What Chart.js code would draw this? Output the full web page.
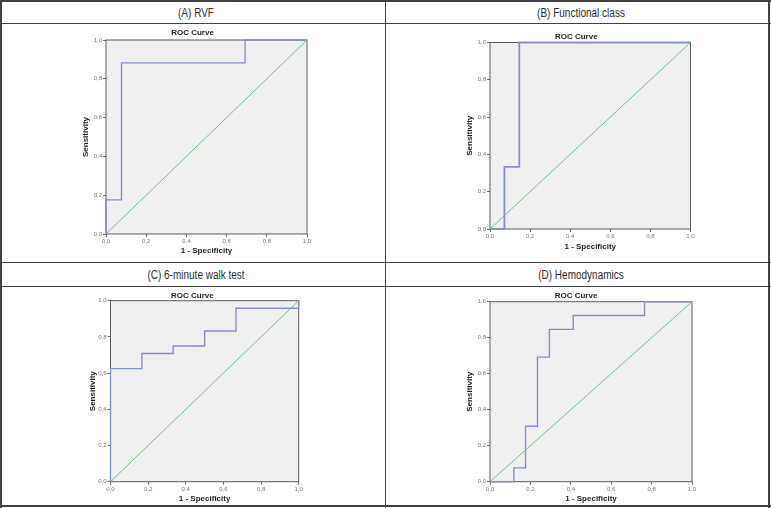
<!DOCTYPE html>
<html><head><meta charset="utf-8">
<script src="https://cdn.jsdelivr.net/npm/chart.js@4.4.1/dist/chart.umd.min.js"></script>
<style>
html,body{margin:0;padding:0;background:#fff;}
#wrap{position:relative;width:771px;height:508px;overflow:hidden;background:#fff;}
.ln{position:absolute;background:#404040;}
.hd{position:absolute;width:260px;text-align:center;font-family:'Liberation Sans',Arial,sans-serif;font-size:12.5px;color:#2e2e2e;transform:scaleX(0.8);transform-origin:center;line-height:16px;white-space:nowrap;}
canvas{position:absolute;}
</style></head><body>
<div id="wrap">
  <div class="ln" style="left:0;top:0;width:771px;height:2px"></div>
  <div class="ln" style="left:0;top:0;width:2px;height:508px"></div>
  <div class="ln" style="left:768px;top:0;width:2px;height:508px"></div>
  <div class="ln" style="left:0;top:505px;width:771px;height:2px"></div>
  <div class="ln" style="left:0;top:22.5px;width:771px;height:1.5px"></div>
  <div class="ln" style="left:0;top:261.5px;width:771px;height:1.5px"></div>
  <div class="ln" style="left:0;top:285.5px;width:771px;height:1.5px"></div>
  <div class="ln" style="left:384.5px;top:0;width:1.5px;height:508px"></div>
  <div class="hd" id="hA" style="left:66px;top:4.5px"></div>
  <div class="hd" id="hB" style="left:450.5px;top:4.5px"></div>
  <div class="hd" id="hC" style="left:66px;top:267px"></div>
  <div class="hd" id="hD" style="left:450.5px;top:267px"></div>
</div>
<script>
// ---- data ----
const panelTitles = ['(A) RVF', '(B) Functional class', '(C) 6-minute walk test', '(D) Hemodynamics'];
const chartTitle = 'ROC Curve';
const xAxisTitle = '1 - Specificity';
const yAxisTitle = 'Sensitivity';
const tickValues = [0, 0.2, 0.4, 0.6, 0.8, 1.0];
const tickLabels = ['0,0', '0,2', '0,4', '0,6', '0,8', '1,0'];
const refLine = [0, 1];

const rvfFpr = [0, 0, 0.077, 0.077, 0.692, 0.692, 1];
const rvfTpr = [0, 0.176, 0.176, 0.882, 0.882, 1, 1];

const fcFpr = [0, 0.072, 0.072, 0.146, 0.146, 1];
const fcTpr = [0, 0, 0.333, 0.333, 1, 1];

const walkFpr = [0, 0, 0.167, 0.167, 0.333, 0.333, 0.5, 0.5, 0.667, 0.667, 1, 1];
const walkTpr = [0, 0.625, 0.625, 0.708, 0.708, 0.75, 0.75, 0.833, 0.833, 0.958, 0.958, 1];

const hemoFpr = [0, 0.118, 0.118, 0.176, 0.176, 0.235, 0.235, 0.294, 0.294, 0.412, 0.412, 0.765, 0.765, 1];
const hemoTpr = [0, 0, 0.077, 0.077, 0.308, 0.308, 0.692, 0.692, 0.846, 0.846, 0.923, 0.923, 1, 1];

// ---- layout ----
['hA','hB','hC','hD'].forEach((id,i)=>{ document.getElementById(id).textContent = panelTitles[i]; });

const panels = [
  {fpr: rvfFpr, tpr: rvfTpr, cx:78, cy:24, L:106, R:307, T:40, B:234, ty:33, xty:250.5, ytx:86, lw:1.4},
  {fpr: fcFpr, tpr: fcTpr, cx:462, cy:24, L:490, R:690.5, T:42.5, B:229, ty:36.7, xty:247, ytx:470, lw:1.8},
  {fpr: walkFpr, tpr: walkTpr, cx:86, cy:288, L:110.5, R:298.7, T:300.7, B:481.7, ty:295.7, xty:498.3, ytx:92.3, lw:1.4},
  {fpr: hemoFpr, tpr: hemoTpr, cx:460, cy:288, L:490, R:692, T:301.7, B:481.7, ty:295.7, xty:498.3, ytx:470, lw:1.4}
];

const framePlugin = {
  id: 'frame',
  beforeDraw(chart) {
    const {ctx, chartArea: a} = chart;
    ctx.save();
    ctx.fillStyle = '#f0f0f0';
    ctx.fillRect(a.left, a.top, a.right - a.left, a.bottom - a.top);
    ctx.restore();
  },
  beforeDatasetsDraw(chart) {
    const {ctx, chartArea: a} = chart;
    ctx.save();
    ctx.strokeStyle = '#5a5a5a';
    ctx.lineWidth = 1;
    ctx.strokeRect(a.left, a.top, a.right - a.left, a.bottom - a.top);
    ctx.restore();
  }
};

const wrap = document.getElementById('wrap');
const FONT = "'Liberation Sans', Arial, sans-serif";

panels.forEach(p => {
  const Hx = p.xty - p.B + 4.8 + 2;
  const cw = Math.ceil(p.R - p.cx + 12);
  const pr = cw - (p.R - p.cx);
  const ch = Math.ceil(p.B - p.cy + Hx);
  const pb = ch - (p.B - p.cy + Hx);
  const Wy = p.L - p.cx;
  const tpt = p.ty - p.cy - 4.8;
  const tpb = p.T - p.cy - tpt - 9.6;
  const ytp = p.ytx - p.cx - 4.8;

  const c = document.createElement('canvas');
  c.width = cw; c.height = ch;
  c.style.left = p.cx + 'px'; c.style.top = p.cy + 'px';
  c.style.width = cw + 'px'; c.style.height = ch + 'px';
  wrap.appendChild(c);

  const setTicks = s => { s.ticks = tickValues.map(v => ({value: v})); };
  const tickFont = {family: FONT, size: 6};
  const titleFont = {family: FONT, size: 8, weight: 'bold'};

  new Chart(c, {
    type: 'scatter',
    data: {
      datasets: [
        {data: p.fpr.map((x, i) => ({x: x, y: p.tpr[i]})), showLine: true, borderColor: '#8590ca',
         borderWidth: p.lw, pointRadius: 0, fill: false, clip: false, order: 1},
        {data: refLine.map(v => ({x: v, y: v})), showLine: true, borderColor: '#72c682',
         borderWidth: 1, pointRadius: 0, fill: false, clip: false, order: 2}
      ]
    },
    options: {
      responsive: false,
      animation: false,
      devicePixelRatio: 1,
      layout: {padding: {left: 0, top: 0, right: pr, bottom: pb}},
      plugins: {
        legend: {display: false},
        tooltip: {enabled: false},
        title: {display: true, text: chartTitle, color: '#1e1e1e', font: titleFont,
                padding: {top: tpt, bottom: tpb}}
      },
      scales: {
        x: {
          type: 'linear', min: 0, max: 1,
          afterBuildTicks: setTicks,
          afterFit: s => { s.height = Hx; },
          grid: {display: true, drawOnChartArea: false, drawTicks: true, tickLength: 3, color: '#6a6a6a'},
          border: {display: false},
          ticks: {autoSkip: false, maxRotation: 0, padding: 1, color: '#777', font: tickFont,
                  callback: (v, i) => tickLabels[i]},
          title: {display: true, text: xAxisTitle, color: '#1e1e1e', font: titleFont, padding: {top: 0, bottom: 2}}
        },
        y: {
          type: 'linear', min: 0, max: 1,
          afterBuildTicks: setTicks,
          afterFit: s => { s.width = Wy; },
          grid: {display: true, drawOnChartArea: false, drawTicks: true, tickLength: 3, color: '#6a6a6a'},
          border: {display: false},
          ticks: {autoSkip: false, padding: 1, color: '#777', font: tickFont,
                  callback: (v, i) => tickLabels[i]},
          title: {display: true, text: yAxisTitle, color: '#1e1e1e', font: titleFont, padding: {top: ytp, bottom: 0}}
        }
      }
    },
    plugins: [framePlugin]
  });
});
</script>
</body></html>
